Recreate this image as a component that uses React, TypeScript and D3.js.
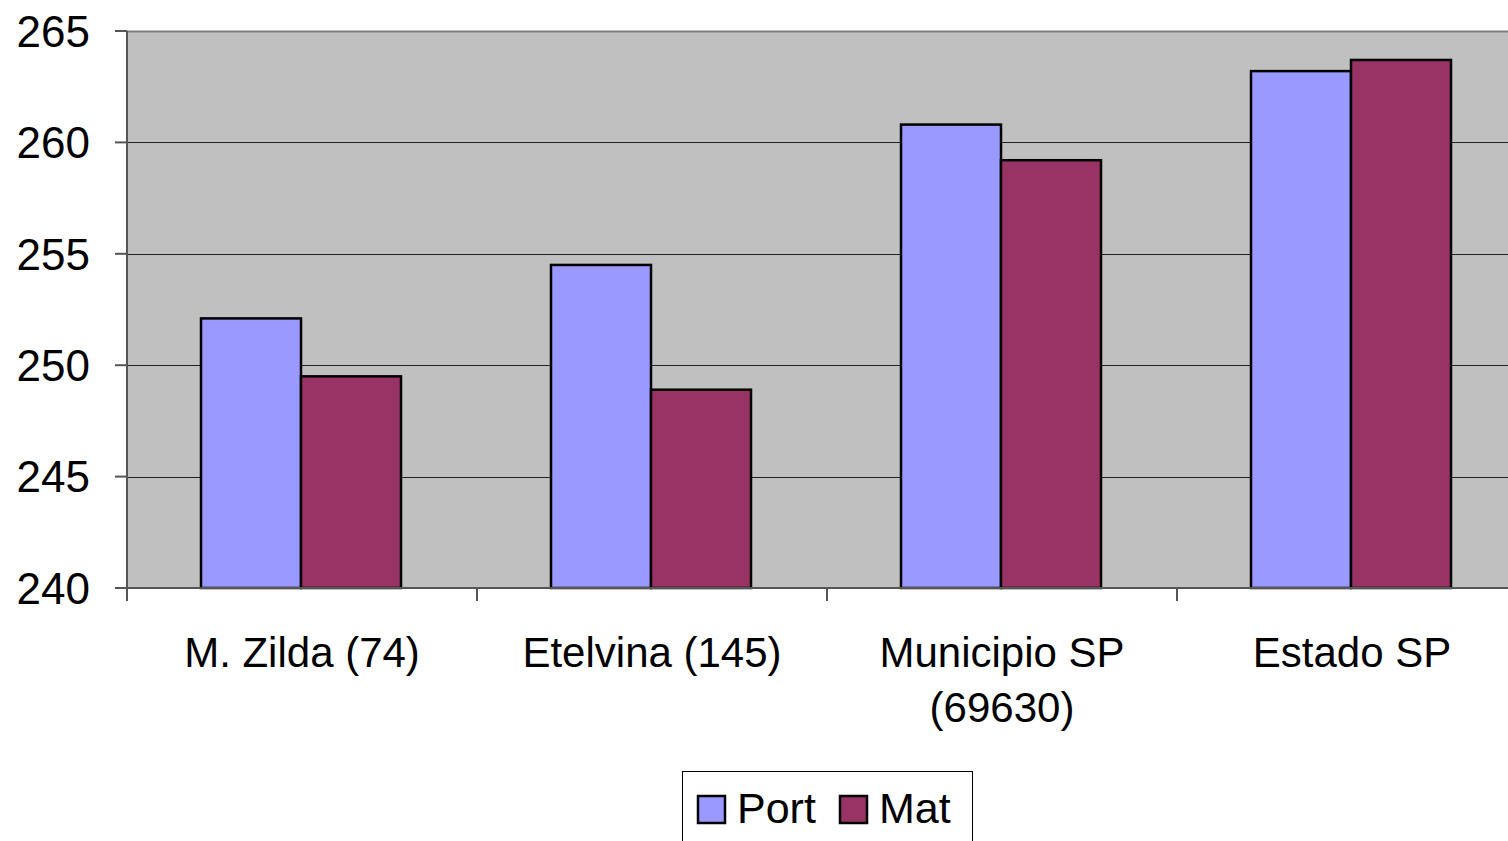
import { useEffect, useRef } from 'react'
import * as d3 from 'd3'

const categories = ['M. Zilda (74)', 'Etelvina (145)', 'Municipio SP (69630)', 'Estado SP']
const categoryLines = [['M. Zilda (74)'], ['Etelvina (145)'], ['Municipio SP', '(69630)'], ['Estado SP']]
const seriesNames = ['Port', 'Mat']
const portValues = [252.1, 254.5, 260.8, 263.2]
const matValues = [249.5, 248.9, 259.2, 263.7]
const yTicks = [240, 245, 250, 255, 260, 265]

const colors: Record<string, string> = { Port: '#9999ff', Mat: '#993366' }
const font = 'Liberation Sans, Arial, sans-serif'

export default function App() {
  const svgRef = useRef<SVGSVGElement>(null)

  useEffect(() => {
    if (!svgRef.current) return
    const svg = d3.select(svgRef.current)
    svg.selectAll('*').remove()

    const left = 127
    const top = 31
    const bottom = 588
    const right = 1527

    const x = d3.scaleBand<string>().domain(categories).range([left, right]).paddingInner(0).paddingOuter(0)
    const xInner = d3.scaleBand<string>().domain(seriesNames).range([0, x.bandwidth()]).paddingInner(0).paddingOuter(0.75)
    const y = d3.scaleLinear().domain([240, 265]).range([bottom, top])

    // plot background
    svg.append('rect')
      .attr('x', left).attr('y', top)
      .attr('width', right - left).attr('height', bottom - top)
      .attr('fill', '#c0c0c0')

    // top border
    svg.append('line')
      .attr('x1', left).attr('x2', right).attr('y1', top + 0.5).attr('y2', top + 0.5)
      .attr('stroke', '#808080').attr('stroke-width', 2)

    // grid lines
    svg.append('g').selectAll('line')
      .data(yTicks.filter(t => t !== 240 && t !== 265))
      .enter().append('line')
      .attr('x1', left).attr('x2', right)
      .attr('y1', d => Math.round(y(d)) + 0.5).attr('y2', d => Math.round(y(d)) + 0.5)
      .attr('stroke', '#222').attr('stroke-width', 1)

    // bars
    const data = categories.map((c, i) => ({ c, Port: portValues[i], Mat: matValues[i] }))
    const groups = svg.append('g').selectAll('g')
      .data(data).enter().append('g')
      .attr('transform', d => `translate(${x(d.c)},0)`)
    groups.selectAll('rect')
      .data(d => seriesNames.map(s => ({ s, v: (d as any)[s] as number })))
      .enter().append('rect')
      .attr('x', d => xInner(d.s)! - 1)
      .attr('y', d => y(d.v))
      .attr('width', xInner.bandwidth())
      .attr('height', d => bottom - y(d.v))
      .attr('fill', d => colors[d.s])
      .attr('stroke', '#000').attr('stroke-width', 2.5)

    // axes
    const axisColor = '#555'
    svg.append('line')
      .attr('x1', left).attr('x2', left).attr('y1', top).attr('y2', bottom + 13)
      .attr('stroke', axisColor).attr('stroke-width', 2)
    svg.append('line')
      .attr('x1', left - 12).attr('x2', right).attr('y1', bottom).attr('y2', bottom)
      .attr('stroke', axisColor).attr('stroke-width', 2)

    svg.append('g').selectAll('line')
      .data(yTicks).enter().append('line')
      .attr('x1', left - 12).attr('x2', left)
      .attr('y1', d => y(d)).attr('y2', d => y(d))
      .attr('stroke', axisColor).attr('stroke-width', 2)

    svg.append('g').selectAll('text')
      .data(yTicks).enter().append('text')
      .attr('x', 90).attr('y', d => y(d))
      .attr('dy', '0.36em')
      .attr('text-anchor', 'end')
      .attr('font-family', font).attr('font-size', 44)
      .text(d => d)

    svg.append('g').selectAll('line')
      .data(categories.slice(1)).enter().append('line')
      .attr('x1', d => x(d)!).attr('x2', d => x(d)!)
      .attr('y1', bottom).attr('y2', bottom + 13)
      .attr('stroke', axisColor).attr('stroke-width', 2)

    const labels = svg.append('g').selectAll('text')
      .data(categories).enter().append('text')
      .attr('text-anchor', 'middle')
      .attr('font-family', font).attr('font-size', 42)
    labels.selectAll('tspan')
      .data((_, i) => categoryLines[i].map((l, j) => ({ l, j, c: categories[i] })))
      .enter().append('tspan')
      .attr('x', d => x(d.c)! + x.bandwidth() / 2)
      .attr('y', d => 667 + d.j * 55)
      .text(d => d.l)

    // legend
    const lg = svg.append('g')
    lg.append('rect')
      .attr('x', 682.5).attr('y', 771.5).attr('width', 290).attr('height', 90)
      .attr('fill', '#fff').attr('stroke', '#000').attr('stroke-width', 1)
    const legendX = [698, 840]
    seriesNames.forEach((s, i) => {
      lg.append('rect')
        .attr('x', legendX[i]).attr('y', 796).attr('width', 27).attr('height', 27)
        .attr('fill', colors[s]).attr('stroke', '#000').attr('stroke-width', 2.5)
      lg.append('text')
        .attr('x', legendX[i] + 39).attr('y', 823)
        .attr('font-family', font).attr('font-size', 43)
        .text(s)
    })
  }, [])

  return (
    <svg
      ref={svgRef}
      width={1508}
      height={841}
      style={{ position: 'absolute', left: 0, top: 0, background: '#fff' }}
    />
  )
}
